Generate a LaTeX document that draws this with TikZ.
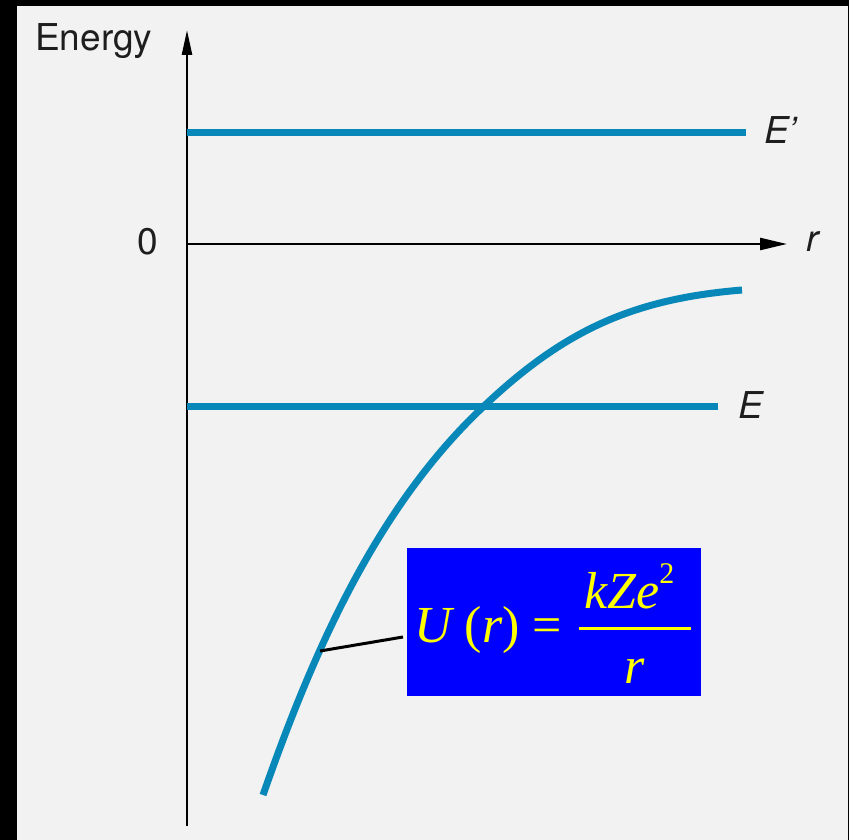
\documentclass[tikz,border=0pt]{standalone}
\usepackage{fontspec}
\setmainfont{Liberation Serif}
\newfontfamily\heros{TeX Gyre Heros}
\usetikzlibrary{arrows.meta}
\definecolor{bg}{RGB}{242,242,242}
\definecolor{ublue}{RGB}{8,136,184}
\definecolor{boxblue}{RGB}{0,0,255}
\definecolor{fyellow}{RGB}{255,255,0}
\definecolor{ink}{RGB}{30,30,30}
\tikzset{
  level/.style={draw=ublue, line width=7pt},
  axis/.style={draw=black, line width=2.4pt},
  sanslabel/.style={inner sep=0pt, text=ink, font=\heros\fontsize{37}{40}\selectfont},
  italabel/.style={inner sep=0pt, text=ink, font=\heros\itshape\fontsize{37}{40}\selectfont},
  formula/.style={inner sep=0pt, text=fyellow, font=\fontsize{52}{56}\selectfont},
}
\begin{document}
\begin{tikzpicture}[x=1pt,y=-1pt]
\useasboundingbox (0,0) rectangle (849,840);
\fill[black] (0,0) rectangle (849,840);
\fill[bg] (17,6) rectangle (848,840);

% axes
\coordinate (yb) at (187,826);
\coordinate (yt) at (187,30);
\coordinate (xl) at (187,244);
\coordinate (xr) at (787,244);
\draw[axis, -{Triangle[length=25pt,width=10pt]}] (yb) -- (yt);
\draw[axis, -{Triangle[length=27pt,width=12pt]}] (xl) -- (xr);

% labels
\node[sanslabel, anchor=base west] (energy) at (35,51) {Energy};
\node[sanslabel, anchor=base east] (zero) at (158,254) {0};
\node[italabel, anchor=base west] (rlab) at (806,251) {r};
\node[italabel, anchor=base west] (eplab) at (764,144) {E’};
\node[italabel, anchor=base west] (elab) at (738,418) {E};

% energy levels
\coordinate (ep0) at (187,133);
\coordinate (ep1) at (746,133);
\coordinate (e0) at (187,406);
\coordinate (e1) at (718,406);
\draw[level] (ep0) -- (ep1);
\draw[level] (e0) -- (e1);

% potential curve
\coordinate (u0) at (263,795);
\coordinate (um) at (483,407);
\coordinate (u1) at (742,290);
\draw[level] (u0) .. controls (312,655) and (375,509) .. (um)
                  .. controls (563,331) and (632,299) .. (u1);

% formula box
\node[fill=boxblue, minimum width=294pt, minimum height=148pt, inner sep=0pt] (box) at (554,622) {};
\node[formula, anchor=base west] (lhs) at (414,642) {\itshape U \upshape(\itshape r\upshape) =};
\node[formula, anchor=base west] (num) at (584,608) {\itshape kZe\upshape\raisebox{25pt}{\fontsize{30}{30}\selectfont 2}};
\node[formula, anchor=base west] (den) at (624,683) {\itshape r};
\coordinate (bar0) at (579,628);
\coordinate (bar1) at (691,628);
\draw[fyellow, line width=3pt] (bar0) -- (bar1);

% leader
\coordinate (lead0) at (320,651);
\coordinate (lead1) at (403,637);
\draw[black, line width=3pt] (lead0) -- (lead1);
\end{tikzpicture}
\end{document}
